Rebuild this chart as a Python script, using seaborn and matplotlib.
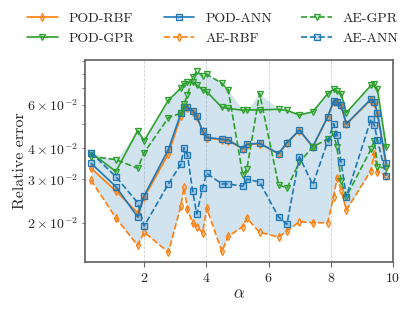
import numpy as np
import matplotlib
matplotlib.use("Agg")
import matplotlib.pyplot as plt
import seaborn as sns

alpha_vals = [0.29, 1.09, 1.79, 2.00, 2.78, 3.18, 3.28, 3.39, 3.56, 3.69, 3.88, 4.01,
              4.50, 4.70, 5.17, 5.30, 5.71, 6.32, 6.59, 6.99, 7.42, 7.90, 8.09, 8.20,
              8.33, 8.50, 9.29, 9.40, 9.50, 9.78]

pod_rbf = [0.0332, 0.0269, 0.0219, 0.0253, 0.0380, 0.0540, 0.0585, 0.0580, 0.0560, 0.0535,
           0.0468, 0.0440, 0.0433, 0.0430, 0.0398, 0.0413, 0.0418, 0.0380, 0.0420, 0.0472,
           0.0405, 0.0535, 0.0618, 0.0615, 0.0595, 0.0500, 0.0628, 0.0612, 0.0550, 0.0340]
pod_gpr = [0.0384, 0.0322, 0.0471, 0.0429, 0.0626, 0.0700, 0.0730, 0.0740, 0.0740, 0.0720,
           0.0690, 0.0678, 0.0585, 0.0580, 0.0570, 0.0572, 0.0572, 0.0575, 0.0569, 0.0545,
           0.0562, 0.0665, 0.0692, 0.0680, 0.0666, 0.0557, 0.0718, 0.0727, 0.0692, 0.0404]
pod_ann = [0.0348, 0.0280, 0.0211, 0.0257, 0.0396, 0.0554, 0.0589, 0.0585, 0.0567, 0.0540,
           0.0470, 0.0443, 0.0435, 0.0432, 0.0399, 0.0415, 0.0419, 0.0381, 0.0421, 0.0474,
           0.0406, 0.0536, 0.0621, 0.0617, 0.0598, 0.0502, 0.0632, 0.0617, 0.0554, 0.0348]
ae_rbf = [0.0298, 0.0209, 0.0162, 0.0183, 0.0152, 0.0234, 0.0278, 0.0227, 0.0199, 0.0193,
          0.0182, 0.0229, 0.0153, 0.0176, 0.0193, 0.0209, 0.0183, 0.0175, 0.0185, 0.0202,
          0.0200, 0.0200, 0.0255, 0.0303, 0.0272, 0.0225, 0.0325, 0.0381, 0.0320, 0.0310]
ae_gpr = [0.0370, 0.0360, 0.0332, 0.0384, 0.0532, 0.0555, 0.0605, 0.0655, 0.0775, 0.0818,
          0.0785, 0.0798, 0.0732, 0.0690, 0.0312, 0.0329, 0.0666, 0.0285, 0.0276, 0.0351,
          0.0406, 0.0435, 0.0456, 0.0403, 0.0294, 0.0255, 0.0396, 0.0430, 0.0337, 0.0332]
ae_ann = [0.0384, 0.0307, 0.0241, 0.0194, 0.0287, 0.0345, 0.0402, 0.0376, 0.0268, 0.0217,
          0.0277, 0.0317, 0.0287, 0.0287, 0.0281, 0.0300, 0.0292, 0.0211, 0.0197, 0.0370,
          0.0285, 0.0426, 0.0503, 0.0453, 0.0351, 0.0255, 0.0524, 0.0496, 0.0432, 0.0310]

labels = ["POD-RBF", "POD-GPR", "POD-ANN", "AE-RBF", "AE-GPR", "AE-ANN"]

sns.set_style("ticks")
plt.rcParams.update({
    "font.family": ["cmr10", "DejaVu Serif"],
    "mathtext.fontset": "cm",
    "axes.formatter.use_mathtext": True,
    "font.size": 10,
    "axes.unicode_minus": False,
})

C_RBF, C_GPR, C_ANN = "#ff7f0e", "#2ca02c", "#1f77b4"

fig = plt.figure(figsize=(4.15, 3.12), dpi=100)
ax = fig.add_axes([0.205, 0.16, 0.742, 0.648])

series = [
    (pod_rbf, labels[0], C_RBF, "d", "-"),
    (pod_gpr, labels[1], C_GPR, "v", "-"),
    (pod_ann, labels[2], C_ANN, "s", "-"),
    (ae_rbf, labels[3], C_RBF, "d", "--"),
    (ae_gpr, labels[4], C_GPR, "v", "--"),
    (ae_ann, labels[5], C_ANN, "s", "--"),
]

allv = np.array([s[0] for s in series])
ax.fill_between(alpha_vals, allv.min(axis=0), allv.max(axis=0),
                color=C_ANN, alpha=0.2, linewidth=0, zorder=1)

for vals, lab, col, mk, ls in series:
    rgba = matplotlib.colors.to_rgba(col, 0.25)
    sns.lineplot(x=alpha_vals, y=vals, ax=ax, color=col, marker=mk, linestyle=ls,
                 label=lab, linewidth=1.2, markersize=4.2, markerfacecolor=rgba,
                 markeredgecolor=col, markeredgewidth=0.9, zorder=3)

ax.set_yscale("log")
ax.set_xlim(0.1, 10)
ax.set_ylim(0.01386, 0.0911)
ax.set_xticks([2, 4, 6, 8, 10])
ax.set_xlabel(r"$\alpha$", fontsize=12, labelpad=1)
ax.set_ylabel("Relative error", fontsize=11.5, labelpad=0)
ax.grid(axis="x", linestyle="--", color="0.82", linewidth=0.6)
ax.grid(axis="y", visible=False, which="both")
for sp in ax.spines.values():
    sp.set_color("0.4")
    sp.set_linewidth(1.25)
ax.tick_params(axis="both", which="both", color="0.4", labelsize=10)

h, l = ax.get_legend_handles_labels()
ax.legend_.remove()
fig.legend(h, l, loc="upper center", bbox_to_anchor=(0.513, 1.0), ncol=3,
           frameon=False, fontsize=10, handlelength=2.2, columnspacing=2.1,
           labelspacing=0.5)

fig.savefig("out.png", dpi=100)
